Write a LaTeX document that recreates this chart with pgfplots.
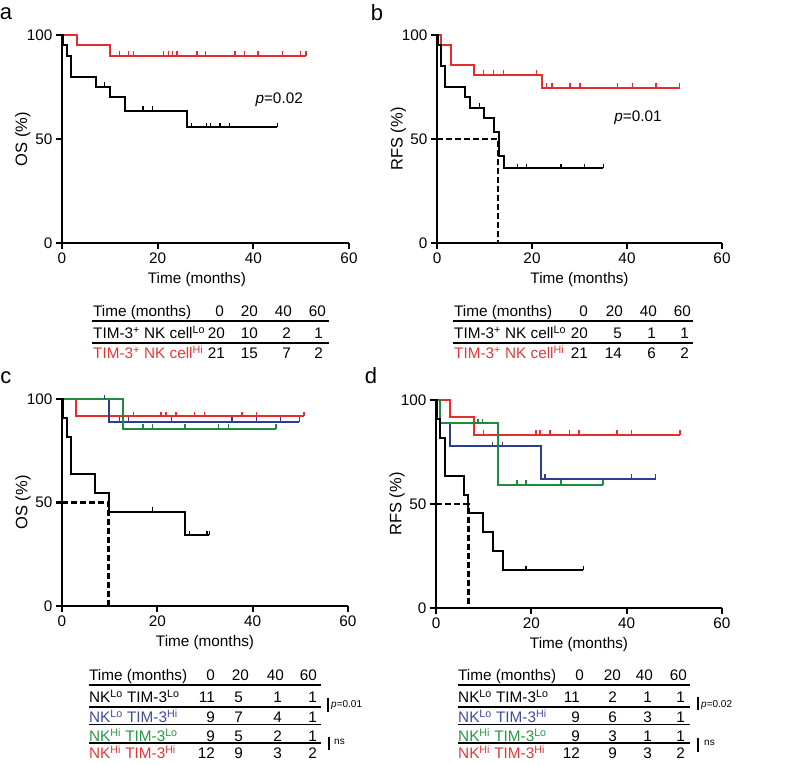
\documentclass[border=0pt]{standalone}
\usepackage{pgfplots}
\pgfplotsset{compat=1.18}
\usepackage{fontspec}
\setmainfont{Liberation Sans}
\definecolor{kmred}{RGB}{230,45,45}
\definecolor{kmblue}{RGB}{45,60,150}
\definecolor{kmgreen}{RGB}{30,140,60}
\definecolor{txred}{RGB}{228,55,55}
\definecolor{txblue}{RGB}{65,75,160}
\definecolor{txgreen}{RGB}{40,150,70}
\newcommand\fs{\fontsize{15.3}{18}\selectfont}
\newcommand\fy{\fontsize{16.5}{19}\selectfont}
\newcommand\fss{\fontsize{10}{12}\selectfont}
\newcommand\fl{\fontsize{22}{26}\selectfont}
\pgfdeclareplotmark{cens}{\pgfpathmoveto{\pgfpointorigin}\pgfpathlineto{\pgfpoint{0pt}{4.5pt}}\pgfusepathqstroke}
\pgfplotsset{
  km/.style={scale only axis, anchor=south west, xmin=0, xmax=60, ymin=0, ymax=100,
    axis lines=left, axis line style={-, line width=2.2pt},
    xtick={0,20,40,60}, ytick={0,50,100}, tick align=outside, major tick length=6pt,
    every tick/.style={line width=2.2pt, black},
    tick label style={font=\fs}, label style={font=\fs},
    /pgf/number format/assume math mode=true, clip=false,
    xlabel={Time (months)},
    xlabel style={at={(axis description cs:0.5,-0.178)}, anchor=center},
    ylabel style={at={(axis description cs:-0.136,0.5)}, anchor=center, font=\fy}},
  cur/.style={const plot, mark=none, line width=2pt},
  cen/.style={only marks, mark=cens, mark options={line width=1.4pt}},
  med/.style={mark=none, line width=2.6pt, dash pattern=on 6pt off 3pt, black}
}
\begin{document}
\begin{tikzpicture}[x=1pt,y=1pt]
\path[use as bounding box] (0,0) rectangle (800,764);
% ---------------- a
\begin{axis}[km, at={(62pt,521pt)}, width=287pt, height=208pt, ylabel={OS (\%)}, xlabel style={at={(axis description cs:0.47,-0.178)}}]
\addplot[cur, kmred] coordinates {(0,100)(3.1,95)(10.1,90)(51,90)};
\addplot[cen, kmred] coordinates {(12.0,90)(13.9,90)(15.0,90)(21.2,90)(22.3,90)(23.1,90)(24.0,90)(28.2,90)(30.0,90)(36.2,90)(38.1,90)(41.0,90)(46.1,90)(49.9,90)(51.0,90)};
\addplot[cur, black] coordinates {(0,100)(0.2,95)(1.0,90)(1.9,80)(7.1,75)(10.1,70)(13.1,63.6)(26.1,55.7)(45,55.7)};
\addplot[cen, black] coordinates {(8.9,75)(16.9,63.6)(18.9,63.6)(27.1,55.7)(30.2,55.7)(31.1,55.7)(33.0,55.7)(35.0,55.7)(45.0,55.7)};
\node[font=\fs] at (axis cs:45.4,68.7) {\textit{p}=0.02};
\end{axis}
% ---------------- b
\begin{axis}[km, at={(437pt,521pt)}, width=285pt, height=208pt, ylabel={RFS (\%)}]
\addplot[cur, kmred] coordinates {(0,100)(0.9,95.2)(2.9,85.7)(7.8,81)(22.1,74.7)(51.1,74.7)};
\addplot[cen, kmred] coordinates {(9.8,81)(11.9,81)(14.0,81)(21.0,81)(23.1,74.7)(24.2,74.7)(28.0,74.7)(30.1,74.7)(38.0,74.7)(41.1,74.7)(46.1,74.7)(51.1,74.7)};
\addplot[cur, black] coordinates {(0,100)(0.2,95)(0.84,85)(1.75,75)(5.8,70)(6.9,65)(9.8,60)(11.9,53.5)(13.1,42)(14.0,36)(35,36)};
\addplot[cen, black] coordinates {(9.0,65)(16.9,36)(18.9,36)(26.1,36)(31.0,36)(35.0,36)};
\addplot[med] coordinates {(0,50)(12.8,50)(12.8,0)};
\node[font=\fs] at (axis cs:42.3,60) {\textit{p}=0.01};
\end{axis}
% ---------------- c
\begin{axis}[km, at={(62pt,158pt)}, width=286pt, height=207pt, ylabel={OS (\%)}]
\addplot[cur, kmred] coordinates {(0,100)(3.0,91.7)(50.8,91.7)};
\addplot[cen, kmred] coordinates {(15.0,91.7)(20.8,91.7)(21.8,91.7)(23.9,91.7)(27.8,91.7)(29.9,91.7)(37.8,91.7)(40.8,91.7)(50.8,91.7)};
\addplot[cur, kmblue] coordinates {(0,100)(9.8,88.9)(49.8,88.9)};
\addplot[cen, kmblue] coordinates {(8.9,100)(12.1,88.9)(14.0,88.9)(23.0,88.9)(35.7,88.9)(40.8,88.9)(45.8,88.9)(49.8,88.9)};
\addplot[cur, kmgreen] coordinates {(0,100)(12.9,85.7)(44.9,85.7)};
\addplot[cen, kmgreen] coordinates {(17.0,85.7)(19.0,85.7)(25.8,85.7)(32.8,85.7)(34.9,85.7)(44.9,85.7)};
\addplot[cur, black] coordinates {(0,100)(0.2,90.9)(1.05,81.8)(1.9,63.6)(7.0,54.5)(9.8,45.5)(25.8,34.1)(30.9,34.1)};
\addplot[cen, black] coordinates {(19.0,45.5)(26.7,34.1)(30.4,34.1)(30.9,34.1)};
\addplot[med] coordinates {(0,50)(9.8,50)(9.8,0)};
\end{axis}
% ---------------- d
\begin{axis}[km, at={(436pt,156pt)}, width=286pt, height=208pt, ylabel={RFS (\%)}]
\addplot[cur, kmred] coordinates {(0,100)(3.0,91.7)(7.9,83.3)(51.2,83.3)};
\addplot[cen, kmred] coordinates {(10.0,83.3)(21.0,83.3)(21.8,83.3)(23.9,83.3)(28.0,83.3)(30.0,83.3)(38.0,83.3)(41.0,83.3)(51.2,83.3)};
\addplot[cur, kmblue] coordinates {(0,100)(0.9,88.9)(2.9,77.8)(22.1,62.2)(46.1,62.2)};
\addplot[cen, kmblue] coordinates {(11.9,77.8)(14.0,77.8)(22.9,62.2)(41.0,62.2)(46.1,62.2)};
\addplot[cur, kmgreen] coordinates {(0,100)(0.9,88.9)(13.0,59.3)(35.0,59.3)};
\addplot[cen, kmgreen] coordinates {(8.8,88.9)(9.8,88.9)(17.0,59.3)(18.9,59.3)(26.2,59.3)(35.0,59.3)};
\addplot[cur, black] coordinates {(0,100)(0.2,90.9)(0.8,81.8)(1.8,63.6)(5.8,54.5)(6.8,45.5)(9.8,36.4)(11.9,27.3)(14.0,18.2)(30.9,18.2)};
\addplot[cen, black] coordinates {(18.9,18.2)(30.9,18.2)};
\addplot[med] coordinates {(0,50)(6.8,50)(6.8,0)};
\end{axis}
% ---------------- panel letters
\node[font=\fl] at (6,750) {a};
\node[font=\fl] at (377,751.5) {b};
\node[font=\fl] at (6,386.5) {c};
\node[font=\fl] at (371,388.5) {d};
% ---------------- table a
\begin{scope}[font=\fs]
\node[anchor=base west,inner sep=0] at (93,447.5) {Time (months)};
\foreach \x/\t in {224/0,258/20,292/40,326/60} \node[anchor=base east,inner sep=0] at (\x,447.5) {\t};
\draw[line width=1.6pt] (92,443) -- (329,443);
\node[anchor=base west,inner sep=0] at (93,425.5) {TIM-3\textsuperscript{+} NK cell\textsuperscript{Lo}};
\foreach \x/\t in {225/20,258/10,291/2,323/1} \node[anchor=base east,inner sep=0] at (\x,425.5) {\t};
\draw[line width=1.6pt] (92,421) -- (329,421);
\node[anchor=base west,inner sep=0,text=txred] at (93,405.5) {TIM-3\textsuperscript{+} NK cell\textsuperscript{Hi}};
\foreach \x/\t in {225/21,258/15,291/7,323/2} \node[anchor=base east,inner sep=0] at (\x,405.5) {\t};
% ---------------- table b
\node[anchor=base west,inner sep=0] at (454,447.5) {Time (months)};
\foreach \x/\t in {588/0,623/20,657/40,691/60} \node[anchor=base east,inner sep=0] at (\x,447.5) {\t};
\draw[line width=1.6pt] (453,443) -- (693,443);
\node[anchor=base west,inner sep=0] at (454,425.5) {TIM-3\textsuperscript{+} NK cell\textsuperscript{Lo}};
\foreach \x/\t in {588/20,622/5,656/1,689/1} \node[anchor=base east,inner sep=0] at (\x,425.5) {\t};
\draw[line width=1.6pt] (453,421) -- (693,421);
\node[anchor=base west,inner sep=0,text=txred] at (454,405.5) {TIM-3\textsuperscript{+} NK cell\textsuperscript{Hi}};
\foreach \x/\t in {588/21,622/14,656/6,689/2} \node[anchor=base east,inner sep=0] at (\x,405.5) {\t};
% ---------------- table c
\node[anchor=base west,inner sep=0] at (89,83.5) {Time (months)};
\foreach \x/\t in {215/0,249/20,284/40,317/60} \node[anchor=base east,inner sep=0] at (\x,83.5) {\t};
\draw[line width=1.6pt] (89,79) -- (321,79);
\node[anchor=base west,inner sep=0] at (89,61.5) {NK\textsuperscript{Lo} TIM-3\textsuperscript{Lo}};
\foreach \x/\t in {215/11,243/5,282/1,317/1} \node[anchor=base east,inner sep=0] at (\x,61.5) {\t};
\draw[line width=1.6pt] (89,57) -- (321,57);
\node[anchor=base west,inner sep=0,text=txblue] at (89,41.5) {NK\textsuperscript{Lo} TIM-3\textsuperscript{Hi}};
\foreach \x/\t in {215/9,243/7,282/4,317/1} \node[anchor=base east,inner sep=0] at (\x,41.5) {\t};
\draw[line width=1.6pt] (89,39.5) -- (321,39.5);
\node[anchor=base west,inner sep=0,text=txgreen] at (89,22.5) {NK\textsuperscript{Hi} TIM-3\textsuperscript{Lo}};
\foreach \x/\t in {215/9,243/5,282/2,317/1} \node[anchor=base east,inner sep=0] at (\x,22.5) {\t};
\draw[line width=1.6pt] (89,21) -- (321,21);
\node[anchor=base west,inner sep=0,text=txred] at (89,5.5) {NK\textsuperscript{Hi} TIM-3\textsuperscript{Hi}};
\foreach \x/\t in {215/12,243/9,282/3,317/2} \node[anchor=base east,inner sep=0] at (\x,5.5) {\t};
\draw[line width=1.1pt] (328,66) -- (328,52);
\node[anchor=west,inner sep=0,font=\fss] at (331,59) {\textit{p}=0.01};
\draw[line width=1.1pt] (329,27) -- (329,14);
\node[anchor=west,inner sep=0,font=\fss] at (334,22) {ns};
% ---------------- table d
\node[anchor=base west,inner sep=0] at (458,83.5) {Time (months)};
\foreach \x/\t in {584/0,621/20,653/40,687/60} \node[anchor=base east,inner sep=0] at (\x,83.5) {\t};
\draw[line width=1.6pt] (458,79) -- (690,79);
\node[anchor=base west,inner sep=0] at (458,61.5) {NK\textsuperscript{Lo} TIM-3\textsuperscript{Lo}};
\foreach \x/\t in {580/11,617/2,652/1,685/1} \node[anchor=base east,inner sep=0] at (\x,61.5) {\t};
\draw[line width=1.6pt] (458,57) -- (690,57);
\node[anchor=base west,inner sep=0,text=txblue] at (458,41.5) {NK\textsuperscript{Lo} TIM-3\textsuperscript{Hi}};
\foreach \x/\t in {580/9,617/6,652/3,685/1} \node[anchor=base east,inner sep=0] at (\x,41.5) {\t};
\draw[line width=1.6pt] (458,39.5) -- (690,39.5);
\node[anchor=base west,inner sep=0,text=txgreen] at (458,22.5) {NK\textsuperscript{Hi} TIM-3\textsuperscript{Lo}};
\foreach \x/\t in {580/9,617/3,652/1,685/1} \node[anchor=base east,inner sep=0] at (\x,22.5) {\t};
\draw[line width=1.6pt] (458,21) -- (690,21);
\node[anchor=base west,inner sep=0,text=txred] at (458,5.5) {NK\textsuperscript{Hi} TIM-3\textsuperscript{Hi}};
\foreach \x/\t in {580/12,617/9,652/3,685/2} \node[anchor=base east,inner sep=0] at (\x,5.5) {\t};
\draw[line width=1.1pt] (698,67) -- (698,54);
\node[anchor=west,inner sep=0,font=\fss] at (701,59) {\textit{p}=0.02};
\draw[line width=1.1pt] (698,26) -- (698,12);
\node[anchor=west,inner sep=0,font=\fss] at (704,21) {ns};
\end{scope}
\end{tikzpicture}
\end{document}
